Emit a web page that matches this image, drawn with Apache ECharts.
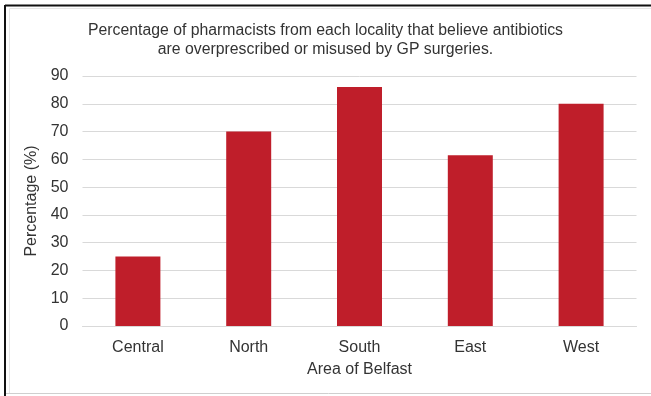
<!DOCTYPE html>
<html>
<head>
<meta charset="utf-8">
<script src="https://cdn.jsdelivr.net/npm/echarts@6/dist/echarts.min.js"></script>
<style>
  html, body { margin: 0; padding: 0; background: #fff; }
  #chart { width: 651px; height: 396px; }
</style>
</head>
<body>
<div id="chart"></div>
<script>
// Survey results by area of Belfast
const areas = ['Central', 'North', 'South', 'East', 'West'];
const percentages = [25, 70, 86, 61.5, 80];
const yTicks = { min: 0, max: 90, step: 10 };

const titleLines = [
  'Percentage of pharmacists from each locality that believe antibiotics',
  'are overprescribed or misused by GP surgeries.'
];

const chart = echarts.init(document.getElementById('chart'), null, { renderer: 'canvas' });

const font = '"Liberation Sans", Arial, sans-serif';
const textColor = '#333333';

chart.setOption({
  backgroundColor: '#ffffff',
  animation: false,
  title: {
    text: titleLines.join('\n'),
    left: 'center',
    top: 16,
    textStyle: {
      fontFamily: font,
      fontSize: 15.8,
      fontWeight: 'normal',
      color: textColor,
      lineHeight: 19
    }
  },
  grid: { left: 82.5, right: 14.5, top: 76, bottom: 70, containLabel: false },
  xAxis: {
    type: 'category',
    data: areas,
    name: 'Area of Belfast',
    nameLocation: 'middle',
    nameGap: 36,
    nameTextStyle: { fontFamily: font, fontSize: 16, color: textColor },
    axisLine: { show: true, lineStyle: { color: '#d9d9d9', width: 1 } },
    axisTick: { show: false },
    axisLabel: { fontFamily: font, fontSize: 16, color: textColor, margin: 14 }
  },
  yAxis: {
    type: 'value',
    min: yTicks.min,
    max: yTicks.max,
    interval: yTicks.step,
    name: 'Percentage (%)',
    nameLocation: 'middle',
    nameGap: 38,
    nameRotate: 90,
    nameTextStyle: { fontFamily: font, fontSize: 16, color: textColor },
    axisLine: { show: false },
    axisTick: { show: false },
    axisLabel: { fontFamily: font, fontSize: 16, color: textColor, margin: 14 },
    splitLine: { lineStyle: { color: '#d9d9d9', width: 1 } }
  },
  series: [{
    type: 'bar',
    data: percentages,
    barWidth: '40.6%',
    itemStyle: { color: '#bf1e2a' }
  }],
  graphic: [
    // frame: dark top/left edge with a soft inner line, light bottom edge
    { type: 'line', shape: { x1: 5, y1: 5.5, x2: 651, y2: 5.5 }, style: { stroke: '#111', lineWidth: 2 } },
    { type: 'line', shape: { x1: 5, y1: 5, x2: 5, y2: 396 }, style: { stroke: '#111', lineWidth: 2 } },
    { type: 'line', shape: { x1: 9.5, y1: 8.5, x2: 651, y2: 8.5 }, style: { stroke: '#e6e6e6', lineWidth: 1 } },
    { type: 'line', shape: { x1: 9.5, y1: 8.5, x2: 9.5, y2: 393 }, style: { stroke: '#e6e6e6', lineWidth: 1 } },
    { type: 'line', shape: { x1: 6, y1: 393.5, x2: 651, y2: 393.5 }, style: { stroke: '#cfcfcf', lineWidth: 1 } }
  ]
});
</script>
</body>
</html>
